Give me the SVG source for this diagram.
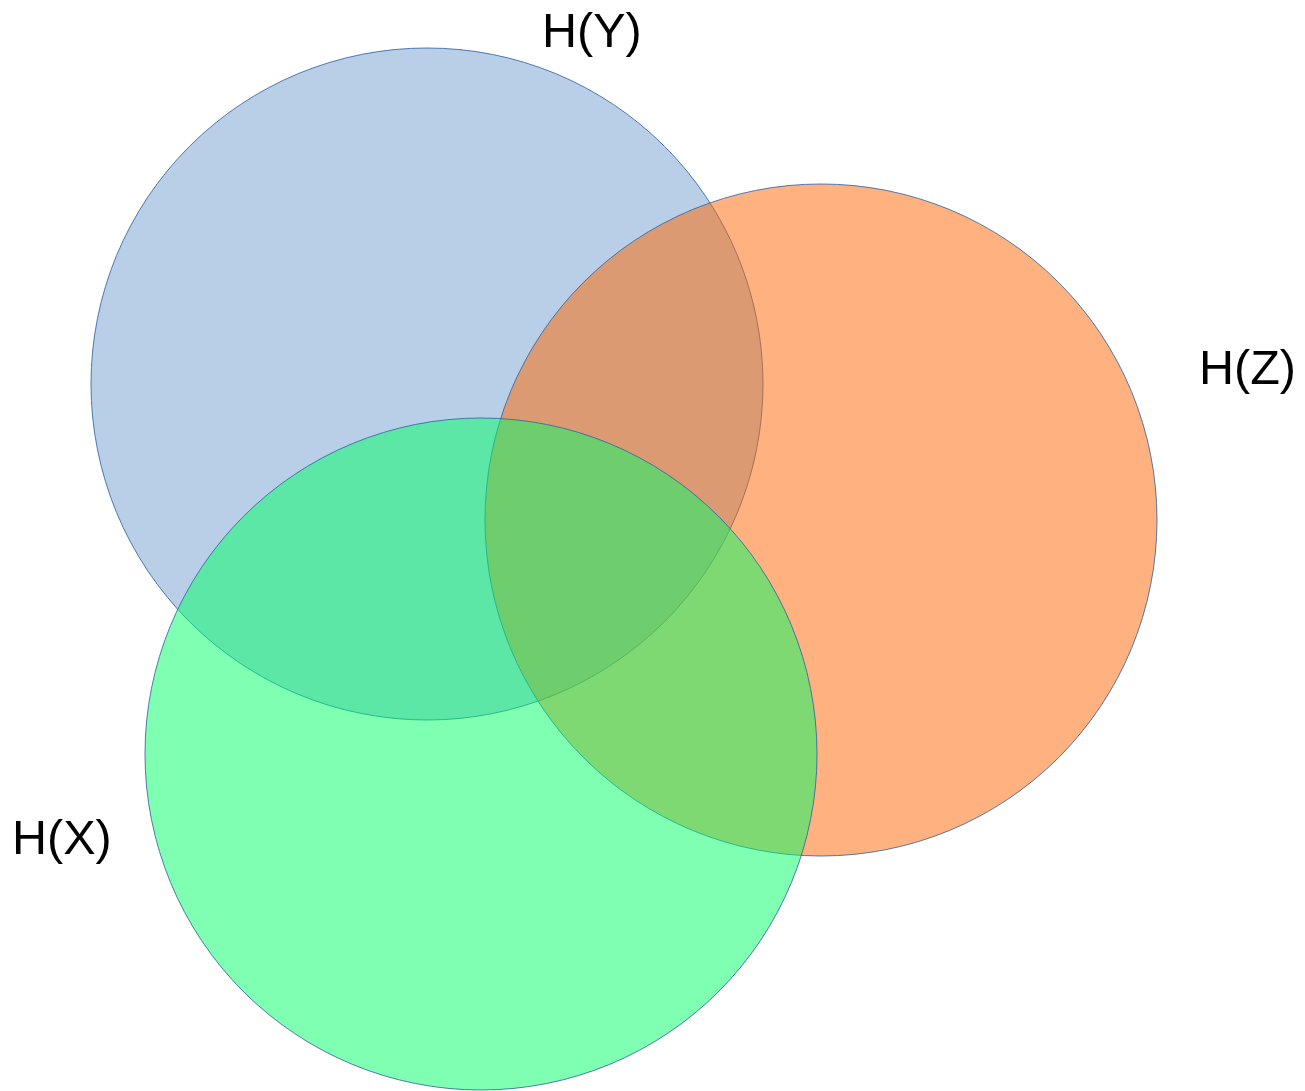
<svg xmlns="http://www.w3.org/2000/svg" width="1305" height="1091" viewBox="0 0 1305 1091">
<style>
.set{stroke:#3465a4;stroke-width:1;fill-opacity:0.5;stroke-opacity:0.85}
.lbl{font-family:"Liberation Sans",Arial,sans-serif;font-size:48.5px;fill:#000}
</style>
<rect width="1305" height="1091" fill="#fff"/>
<g id="setY"><circle class="set" cx="427" cy="384" r="336" fill="#729fcf"/></g>
<g id="setZ"><circle class="set" cx="821" cy="520" r="336" fill="#ff6600"/></g>
<g id="setX"><circle class="set" cx="481" cy="754" r="336" fill="#00ff66"/></g>
<g id="labels">
<text id="lblY" class="lbl" x="542" y="47">H(Y)</text>
<text id="lblZ" class="lbl" x="1199" y="384">H(Z)</text>
<text id="lblX" class="lbl" x="12" y="854">H(X)</text>
</g>
<g id="connectors"/>
</svg>
